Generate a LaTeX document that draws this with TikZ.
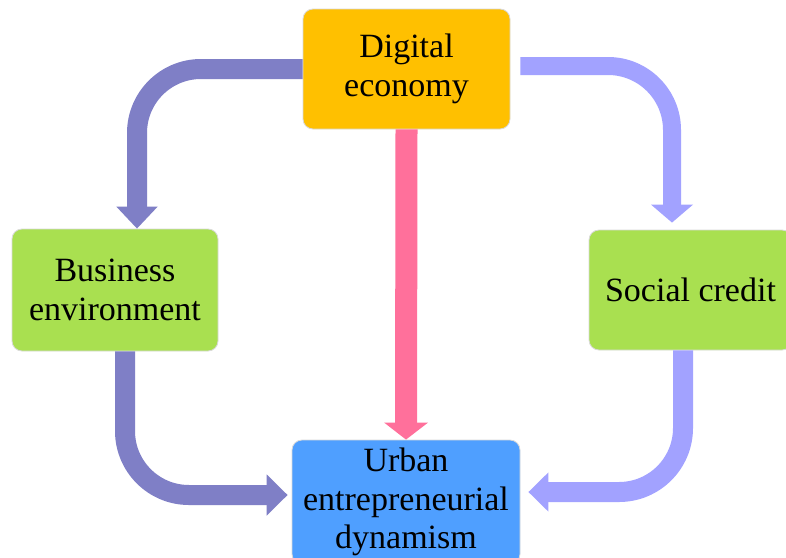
\documentclass[tikz,border=0pt]{standalone}
\usepackage{fontspec}
\setmainfont{Liberation Serif}
\usetikzlibrary{arrows.meta}
\definecolor{boxorange}{RGB}{255,192,0}
\definecolor{boxgreen}{RGB}{169,224,80}
\definecolor{boxblue}{RGB}{79,159,255}
\definecolor{arrowleft}{RGB}{127,127,198}
\definecolor{arrowright}{RGB}{162,162,255}
\definecolor{arrowpink}{RGB}{255,112,155}
\begin{document}
\begin{tikzpicture}[x=1pt,y=-1pt,
  box/.style={rounded corners=10pt, draw=black!15, line width=0.8pt, align=center,
    inner sep=0pt, font=\fontsize{34}{38.5}\selectfont},
  flow/.style={line width=#1, rounded corners=64pt},
]
\fill[white] (0,0) rectangle (786,557);
\useasboundingbox (0,0) rectangle (786,557);

\node[box, fill=boxorange, minimum width=207pt, minimum height=120pt] (de) at (406.5,69) {Digital\\economy};
\node[box, fill=boxgreen, minimum width=206pt, minimum height=122pt] (be) at (115,290) {Business\\environment};
\node[box, fill=boxgreen, minimum width=203pt, minimum height=120pt] (sc) at (690.5,290) {Social credit};
\node[box, fill=boxblue, minimum width=228pt, minimum height=124pt] (ud) at (406,502) {Urban\\entrepreneurial\\dynamism};

% digital economy -> business environment
\draw[flow=20pt, draw=arrowleft, -{Triangle[width=40pt,length=22pt]}]
  (de.west) -| ([xshift=22pt]be.north);
% digital economy -> social credit
\draw[flow=18pt, draw=arrowright, -{Triangle[width=41pt,length=18pt]}]
  ([xshift=10pt,yshift=3pt]de.east) -| ([xshift=-18.5pt,yshift=7pt]sc.north);
% digital economy -> urban
\draw[line width=22pt, draw=arrowpink, -{Triangle[width=43pt,length=17pt]}]
  (de.south) -- (ud.north);
% business environment -> urban
\draw[flow=20pt, draw=arrowleft, -{Triangle[width=40pt,length=21pt]}]
  ([xshift=10pt]be.south) |- ([xshift=-4pt,yshift=7pt]ud.west);
% social credit -> urban
\draw[flow=20pt, draw=arrowright, -{Triangle[width=38pt,length=20pt]}]
  ([xshift=-7.5pt]sc.south) |- ([xshift=8pt,yshift=10pt]ud.east);
\end{tikzpicture}
\end{document}
